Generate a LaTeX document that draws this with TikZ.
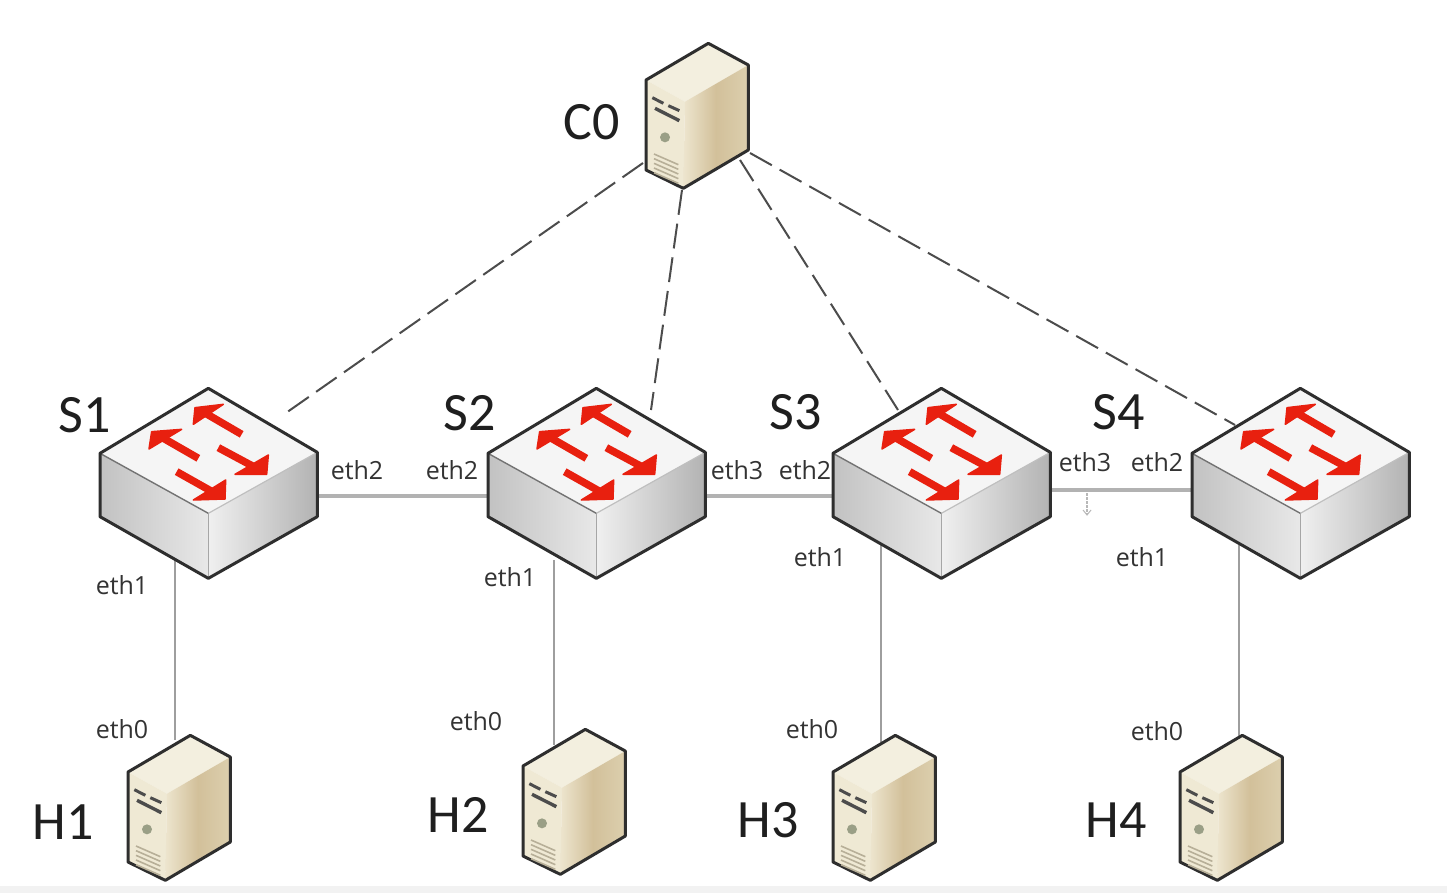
\documentclass[tikz,border=0pt]{standalone}
\usepackage{fontspec}
\setmainfont{Carlito}
\newfontfamily\ethfont{Open Sans}
\definecolor{edge}{HTML}{2E2E2E}
\definecolor{arrowred}{HTML}{E8200F}
\definecolor{srvtop}{HTML}{F3EFDF}
\definecolor{srvfront}{HTML}{EFE9D4}
\definecolor{srvlight}{HTML}{EDE5CE}
\definecolor{srvmid}{HTML}{D2C09A}
\definecolor{srvright}{HTML}{DCCFAE}
\definecolor{srvdisk}{HTML}{9A9F86}
\definecolor{srvvent}{HTML}{B7AF98}
\tikzset{
  anchorbox/.style={inner sep=0pt,outer sep=0pt,minimum width=#1},
  switchbox/.style={anchorbox=218pt,minimum height=190pt},
  serverbox/.style={anchorbox=103pt,minimum height=146pt},
  ctrl/.style={draw=black!70,line width=2pt,dash pattern=on 25pt off 9pt},
  trunk/.style={draw=black!30,line width=3.2pt},
  drop/.style={draw=black!38,line width=2.2pt},
  bigname/.style={font=\fontsize{54}{54}\selectfont,text=black!88,inner sep=0pt},
  ethname/.style={font=\ethfont\fontsize{25}{25}\selectfont,text=black!80,inner sep=0pt},
  facets/.style={draw=edge,line width=3pt,line join=round}
}
\newcommand{\redarrow}[8]{%
  \draw[arrowred,line width=7.5pt] (#1,#2) -- ($(#3,#4)!0.45!($(#5,#6)!0.5!(#7,#8)$)$);
  \fill[arrowred,draw=arrowred,line width=1.5pt,line join=round] (#5,#6) -- (#7,#8) -- (#3,#4) -- cycle;
}
\usetikzlibrary{calc}
\newcommand{\switchicon}[2]{%
\begin{scope}[shift={(#1,#2)},x=.33333pt,y=-.33333pt]
  \fill[black!4] (60,235) -- (385,40) -- (712,232) -- (385,415) -- cycle;
  \shade[left color=black!24,right color=black!9] (60,235) -- (385,415) -- (385,610) -- (60,425) -- cycle;
  \shade[left color=black!6,right color=black!30] (385,415) -- (712,232) -- (712,425) -- (385,610) -- cycle;
  \draw[black!55,line width=1.4pt] (60,235) -- (385,415);
  \draw[black!25,line width=1.2pt] (385,415) -- (712,232);
  \draw[black!35,line width=1pt] (385,415) -- (385,610);
  \draw[facets] (385,40) -- (712,232) -- (712,425) -- (385,610) -- (60,425) -- (60,235) -- cycle;
  \redarrow{485}{178}{345}{98}{430}{88}{340}{148}
  \redarrow{355}{250}{215}{170}{305}{163}{207}{222}
  \redarrow{415}{218}{560}{298}{565}{240}{465}{298}
  \redarrow{290}{290}{435}{372}{437}{315}{340}{375}
\end{scope}}
\newcommand{\servericon}[2]{%
\begin{scope}[shift={(#1,#2)},x=.33333pt,y=-.33333pt]
  \fill[srvtop] (78,150) -- (265,40) -- (385,105) -- (195,215) -- cycle;
  \fill[srvfront] (78,150) -- (195,215) -- (190,475) -- (78,420) -- cycle;
  \shade[left color=srvlight,right color=srvright,middle color=srvmid] (195,215) -- (385,105) -- (385,360) -- (190,475) -- cycle;
  \draw[facets] (78,150) -- (265,40) -- (385,105) -- (385,360) -- (190,475) -- (78,420) -- cycle;
  \draw[black!70,line width=3pt] (97,203) -- (130,220);
  \draw[black!70,line width=3pt] (145,227) -- (178,242);
  \draw[black!70,line width=3.4pt] (105,235) -- (178,272);
  \fill[srvdisk] (135,322) circle[radius=15];
  \foreach \k in {0,1,2,3,4}{\draw[srvvent,line width=1.6pt] (102,372+\k*14) -- (175,404+\k*14);}
\end{scope}}
\begin{document}
\begin{tikzpicture}[x=1pt,y=-1pt]
\useasboundingbox (0,0) rectangle (1447,893);
\fill[white] (0,0) rectangle (1447,893);
\fill[black!5] (0,886) rectangle (1447,893);
% anchors
\node[switchbox] (s1) at (208,484) {};
\node[switchbox] (s2) at (597,484) {};
\node[switchbox] (s3) at (942,484) {};
\node[switchbox] (s4) at (1301,484) {};
\node[serverbox] (c0) at (697,115.5) {};
\node[serverbox] (h1) at (179,807.5) {};
\node[serverbox] (h2) at (574,801.5) {};
\node[serverbox] (h3) at (884,807.5) {};
\node[serverbox] (h4) at (1231,807.5) {};
% control links
\draw[ctrl] ([shift={(-54,47.5)}]c0.center) -- ([shift={(75,-69)}]s1.center);
\draw[ctrl] ([shift={(-15,74.5)}]c0.center) -- ([shift={(54,-74)}]s2.center);
\draw[ctrl] ([shift={(43,44.5)}]c0.center) -- ([shift={(-44,-74)}]s3.center);
\draw[ctrl] ([shift={(53,37.5)}]c0.center) -- ([shift={(-66,-59)}]s4.center);
% trunks
\draw[trunk] ([shift={(0,12)}]s1.east) -- ([shift={(0,12)}]s2.west);
\draw[trunk] ([shift={(0,12)}]s2.east) -- ([shift={(0,12)}]s3.west);
\draw[trunk] ([shift={(0,6)}]s3.east) -- ([shift={(0,6)}]s4.west);
% host drops
\draw[drop] ([shift={(-33,76)}]s1.center) -- ([shift={(-4,-67.5)}]h1.center);
\draw[drop] ([shift={(-43,76)}]s2.center) -- ([shift={(-20,-56.5)}]h2.center);
\draw[drop] ([shift={(-61,61)}]s3.center) -- ([shift={(-3,-65.5)}]h3.center);
\draw[drop] ([shift={(-62,61)}]s4.center) -- ([shift={(8,-70.5)}]h4.center);
% faint cursor mark
\coordinate (marktop) at (1087,493);
\coordinate (markend) at (1087,515);
\draw[black!28,line width=1.4pt,dash pattern=on 2.5pt off 1.5pt] (marktop) -- (markend);
\draw[black!28,line width=1pt] (1083,510) -- (markend) -- (1091,510);
% icons
\switchicon{80}{375}
\switchicon{468}{375}
\switchicon{813}{375}
\switchicon{1172}{375}
\servericon{620}{30}
\servericon{102}{722}
\servericon{497}{716}
\servericon{807}{722}
\servericon{1154}{722}
% names
\node[bigname] (lc0) at (592,122) {C0};
\node[bigname] (ls1) at (85,415) {S1};
\node[bigname] (ls2) at (470,413) {S2};
\node[bigname] (ls3) at (796,412) {S3};
\node[bigname] (ls4) at (1119,412) {S4};
\node[bigname] (lh1) at (63,822) {H1};
\node[bigname] (lh2) at (458,815) {H2};
\node[bigname] (lh3) at (768,820) {H3};
\node[bigname] (lh4) at (1116,820) {H4};
% interface labels
\node[ethname] (e1) at (357,470) {eth2};
\node[ethname] (e2) at (452,470) {eth2};
\node[ethname] (e3) at (737,470) {eth3};
\node[ethname] (e4) at (805,470) {eth2};
\node[ethname] (e5) at (1085,462) {eth3};
\node[ethname] (e6) at (1157,462) {eth2};
\node[ethname] (e7) at (122,585) {eth1};
\node[ethname] (e8) at (510,577) {eth1};
\node[ethname] (e9) at (820,557) {eth1};
\node[ethname] (e10) at (1142,557) {eth1};
\node[ethname] (e11) at (122,729) {eth0};
\node[ethname] (e12) at (476,721) {eth0};
\node[ethname] (e13) at (812,729) {eth0};
\node[ethname] (e14) at (1157,731) {eth0};
\end{tikzpicture}
\end{document}
